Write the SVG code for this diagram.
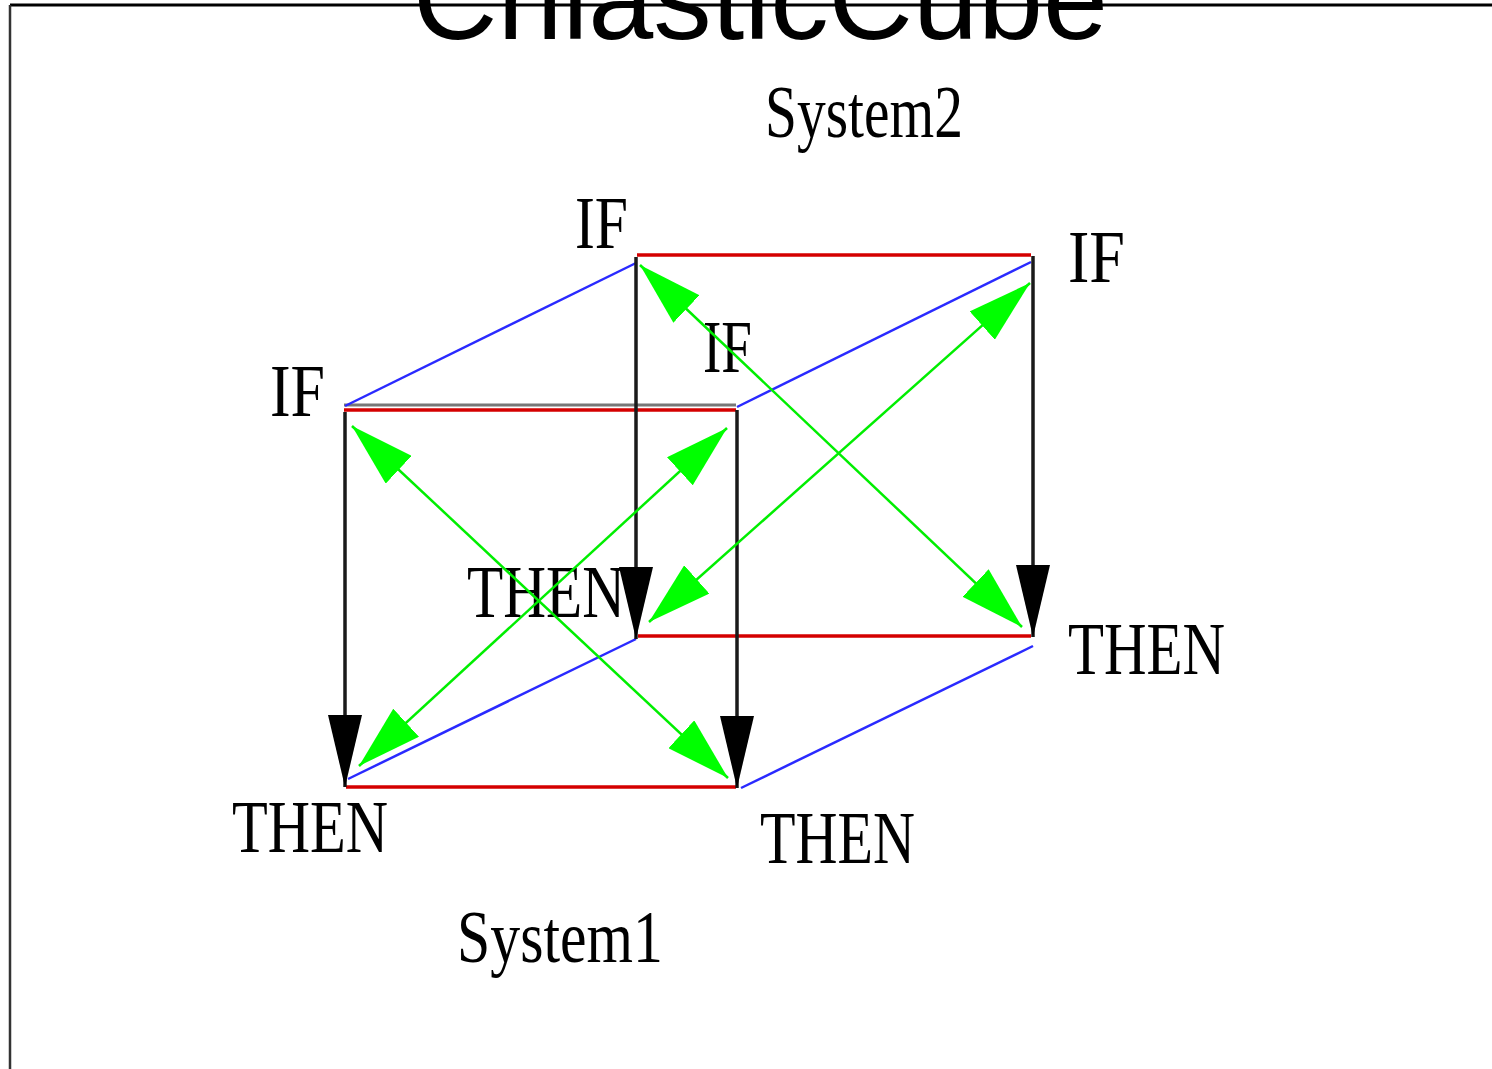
<svg xmlns="http://www.w3.org/2000/svg" width="1492" height="1069" viewBox="0 0 1492 1069">
<style>
.lbl{font-family:"Liberation Serif","Times New Roman",serif;font-size:74px;fill:#000}
.title{font-family:"Liberation Sans",Arial,sans-serif;font-size:117px;fill:#000}
.red{stroke:#d40000;stroke-width:3.5;fill:none}
.blue{stroke:#2a2aff;stroke-width:2.5;fill:none}
.blk{stroke:#1a1a1a;stroke-width:3.5;fill:none}
.grn{stroke:#00ee00;stroke-width:2.5;fill:none}
</style>
<defs>
<marker id="ab" markerUnits="userSpaceOnUse" markerWidth="72" markerHeight="34" refX="72" refY="17" orient="auto" viewBox="0 0 72 34">
<path d="M0,0 L72,17 L0,34 z" fill="#000"/>
</marker>
<marker id="ag" markerUnits="userSpaceOnUse" markerWidth="64" markerHeight="38" refX="64" refY="19" orient="auto-start-reverse" viewBox="0 0 64 38">
<path d="M0,0 L64,19 L0,38 z" fill="#00ff00"/>
</marker>
</defs>
<rect width="1492" height="1069" fill="#fff"/>
<g id="frame">
<line x1="10" y1="5" x2="1492" y2="5" stroke="#000" stroke-width="3"/>
<line x1="10" y1="5" x2="10" y2="1069" stroke="#333" stroke-width="2.5"/>
</g>
<text class="title" x="413" y="39" textLength="695" lengthAdjust="spacingAndGlyphs">ChiasticCube</text>
<g id="nodes">
<g id="system2"><text class="lbl" x="765" y="137" textLength="198" lengthAdjust="spacingAndGlyphs">System2</text></g>
<g id="system1"><text class="lbl" x="457" y="962" textLength="206" lengthAdjust="spacingAndGlyphs">System1</text></g>
<g id="if-back-left"><text class="lbl" x="575" y="248" textLength="53" lengthAdjust="spacingAndGlyphs">IF</text></g>
<g id="if-back-right"><text class="lbl" x="1068" y="282" textLength="57" lengthAdjust="spacingAndGlyphs">IF</text></g>
<g id="if-front-right"><text class="lbl" x="703" y="372" textLength="49" lengthAdjust="spacingAndGlyphs">IF</text></g>
<g id="if-front-left"><text class="lbl" x="270" y="416" textLength="55" lengthAdjust="spacingAndGlyphs">IF</text></g>
<g id="then-back-left"><text class="lbl" x="467" y="617" textLength="158" lengthAdjust="spacingAndGlyphs">THEN</text></g>
<g id="then-back-right"><text class="lbl" x="1068" y="674" textLength="157" lengthAdjust="spacingAndGlyphs">THEN</text></g>
<g id="then-front-left"><text class="lbl" x="232" y="852" textLength="156" lengthAdjust="spacingAndGlyphs">THEN</text></g>
<g id="then-front-right"><text class="lbl" x="760" y="863" textLength="155" lengthAdjust="spacingAndGlyphs">THEN</text></g>
</g>
<g id="connectors">
<line x1="344" y1="405" x2="736" y2="405" stroke="#777" stroke-width="3"/>
<line class="red" x1="344" y1="410" x2="736" y2="410" stroke="#ff3040"/>
<line class="red" x1="637" y1="255" x2="1031" y2="255"/>
<line class="red" x1="638" y1="636" x2="1031" y2="636"/>
<line class="red" x1="346" y1="787" x2="736" y2="787"/>
<line class="blue" x1="345" y1="406" x2="636" y2="263"/>
<line class="blue" x1="737" y1="407" x2="1031" y2="262"/>
<line class="blue" x1="348" y1="779" x2="636" y2="639"/>
<line class="blue" x1="741" y1="788" x2="1033" y2="646"/>
<line class="blk" x1="345" y1="412" x2="345" y2="787" marker-end="url(#ab)"/>
<line class="blk" x1="737" y1="410" x2="737" y2="788" marker-end="url(#ab)"/>
<line class="blk" x1="636" y1="257" x2="636" y2="639" marker-end="url(#ab)"/>
<line class="blk" x1="1033" y1="256" x2="1033" y2="637" marker-end="url(#ab)"/>
<line class="grn" x1="352" y1="426" x2="728" y2="778" marker-start="url(#ag)" marker-end="url(#ag)"/>
<line class="grn" x1="727" y1="428" x2="359" y2="766" marker-start="url(#ag)" marker-end="url(#ag)"/>
<line class="grn" x1="640" y1="265" x2="1022" y2="627" marker-start="url(#ag)" marker-end="url(#ag)"/>
<line class="grn" x1="1030" y1="283" x2="649" y2="622" marker-start="url(#ag)" marker-end="url(#ag)"/>
</g>
</svg>
